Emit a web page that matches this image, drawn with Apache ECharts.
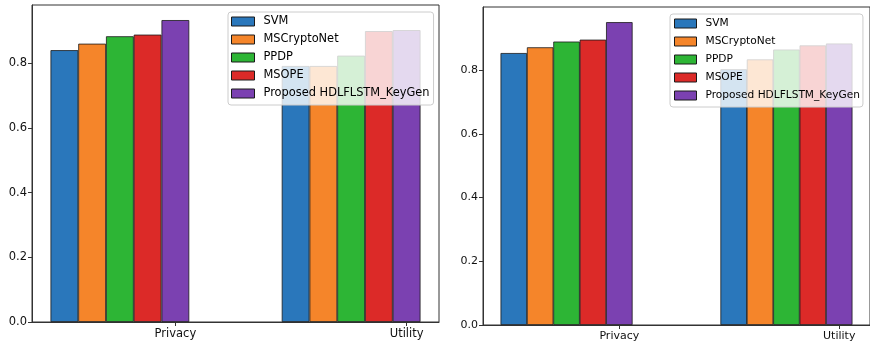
<!DOCTYPE html>
<html>
<head>
<meta charset="utf-8">
<script src="https://cdn.jsdelivr.net/npm/echarts@6/dist/echarts.min.js"></script>
<style>html,body{margin:0;padding:0;background:#fff}#c{width:870px;height:347px}</style>
</head>
<body>
<div id="c"></div>
<script>
// ---- data ----
const categories = ['Privacy', 'Utility'];
const seriesNames = ['SVM', 'MSCryptoNet', 'PPDP', 'MSOPE', 'Proposed HDLFLSTM_KeyGen'];
const colors = ['#2a77bb', '#f5852a', '#2db535', '#dc2a28', '#7b41b1'];
// left panel: values per method
const leftPrivacy = [0.841, 0.861, 0.884, 0.889, 0.934];
const leftUtility = [0.792, 0.792, 0.824, 0.900, 0.903];
// right panel: values per method
const rightPrivacy = [0.854, 0.872, 0.890, 0.896, 0.951];
const rightUtility = [0.803, 0.834, 0.865, 0.878, 0.884];
const yTicks = [0, 0.2, 0.4, 0.6, 0.8];

// ---- layout ----
const BAR_W = 0.12;
const dataMin = -4 * BAR_W - BAR_W / 2;
const dataMax = (categories.length - 1) + BAR_W / 2;
const pad = 0.05 * (dataMax - dataMin);
const xMin = dataMin - pad, xMax = dataMax + pad;

const grids = [
  { left: 32, top: 5, width: 407, height: 317 },
  { left: 483, top: 7, width: 389, height: 318 }
];
const panels = [[leftPrivacy, leftUtility], [rightPrivacy, rightUtility]];
const fontSizes = [11.5, 11];

const option = { animation: false, grid: [], xAxis: [], yAxis: [], series: [], legend: [] };

panels.forEach((panel, g) => {
  const G = grids[g];
  option.grid.push(Object.assign({ show: true, borderColor: '#333', borderWidth: 1, backgroundColor: 'transparent', containLabel: false }, G));
  const allVals = panel.flat();
  const yMax = 1.05 * Math.max(...allVals);
  option.xAxis.push({
    type: 'value', gridIndex: g, min: xMin, max: xMax,
    axisLine: { show: true, onZero: false, lineStyle: { color: '#333', width: 1 } },
    axisTick: { show: true, customValues: categories.map((_, i) => i), length: 4, lineStyle: { color: '#333' } },
    axisLabel: { show: true, customValues: categories.map((_, i) => i), formatter: v => categories[Math.round(v)], margin: 6,
      color: '#111', fontFamily: 'DejaVu Sans', fontSize: fontSizes[g] },
    splitLine: { show: false }
  });
  option.yAxis.push({
    type: 'value', gridIndex: g, min: 0, max: yMax,
    axisLine: { show: true, onZero: false, lineStyle: { color: '#333', width: 1 } },
    axisTick: { show: true, customValues: yTicks, length: 4, lineStyle: { color: '#333' } },
    axisLabel: { show: true, customValues: yTicks, formatter: v => v.toFixed(1), margin: 5,
      color: '#111', fontFamily: 'DejaVu Sans', fontSize: fontSizes[g] },
    splitLine: { show: false }
  });
  const barPx = BAR_W * G.width / (xMax - xMin);
  seriesNames.forEach((name, i) => {
    option.series.push({
      type: 'bar', name: name, xAxisIndex: g, yAxisIndex: g,
      barWidth: barPx, barGap: '-100%',
      itemStyle: { color: colors[i], borderColor: '#1a1a1a', borderWidth: 0.8 },
      data: categories.map((c, k) => [k + (i - 4) * BAR_W, panel[k][i]])
    });
  });
});

option.legend.push({
  orient: 'vertical', left: 228, top: 12, data: seriesNames, icon: 'rect',
  itemWidth: 23, itemHeight: 9, itemGap: 7,
  padding: [4, 4, 6, 3],
  backgroundColor: 'rgba(255,255,255,0.8)', borderColor: '#cccccc', borderWidth: 1, borderRadius: 3,
  itemStyle: { borderColor: '#1a1a1a', borderWidth: 1 },
  textStyle: { fontFamily: 'DejaVu Sans', fontSize: 11.4, color: '#000', padding: [0, 0, 0, 4], lineHeight: 11 },
  selectedMode: false, z: 10
});
option.legend.push({
  orient: 'vertical', left: 670, top: 14, data: seriesNames, icon: 'rect',
  itemWidth: 22, itemHeight: 9, itemGap: 7,
  padding: [4, 3, 6, 4],
  backgroundColor: 'rgba(255,255,255,0.8)', borderColor: '#cccccc', borderWidth: 1, borderRadius: 3,
  itemStyle: { borderColor: '#1a1a1a', borderWidth: 1 },
  textStyle: { fontFamily: 'DejaVu Sans', fontSize: 10.6, color: '#000', padding: [0, 0, 0, 4], lineHeight: 11 },
  selectedMode: false, z: 10
});

const chart = echarts.init(document.getElementById('c'), null, { renderer: 'canvas' });
chart.setOption(option);
</script>
</body>
</html>
